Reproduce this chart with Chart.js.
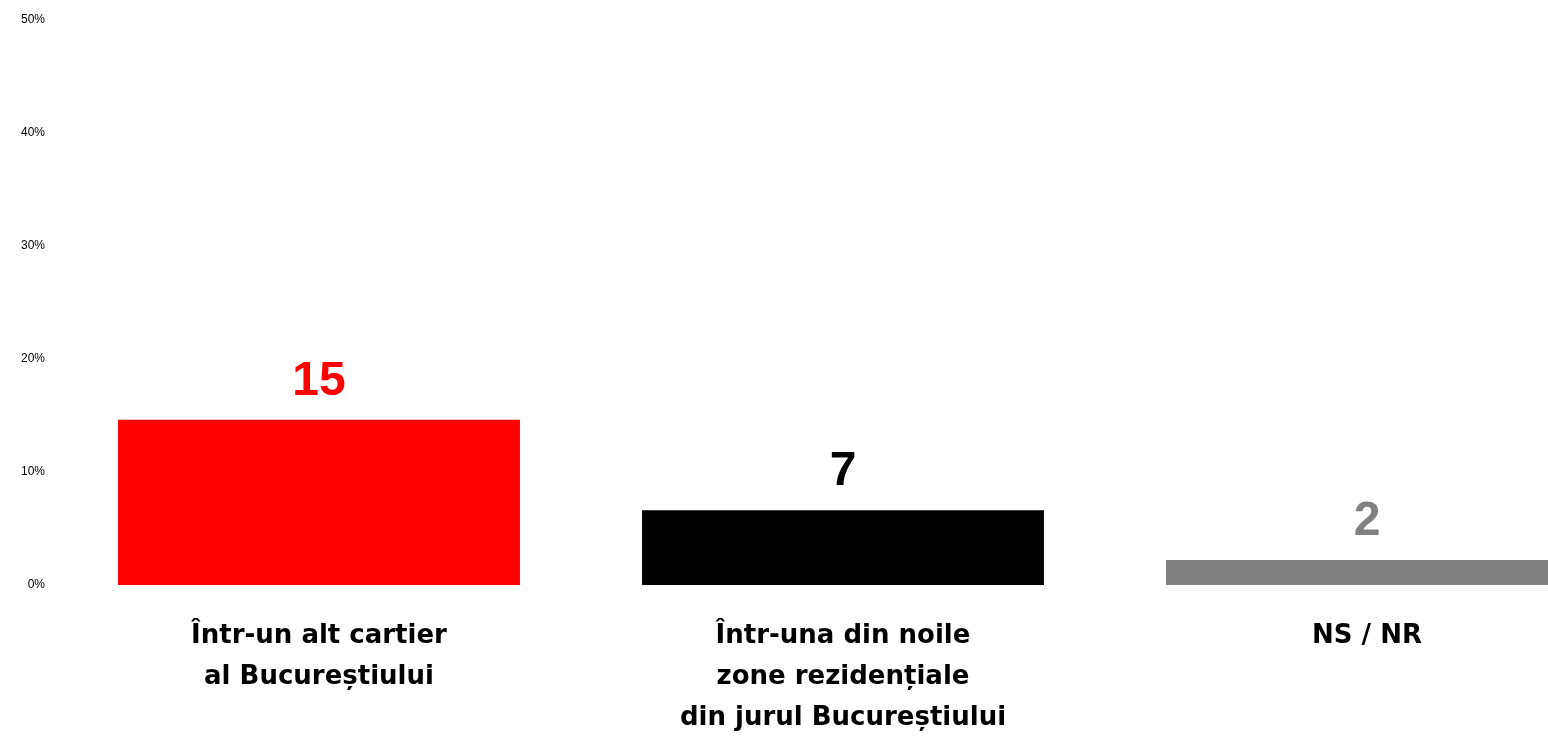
<!DOCTYPE html>
<html lang="ro">
<head>
    <meta charset="UTF-8">
    <title>Bar chart</title>
    <script src="https://cdn.jsdelivr.net/npm/chart.js"></script>
    <style>
        html, body { margin: 0; padding: 0; background: #fff; overflow: hidden; }
        #wrap { width: 1640px; height: 738px; }
    </style>
</head>
<body>
    <div id="wrap"><canvas id="chart" width="1640" height="738"></canvas></div>

    <script>
        const categories = [
            ['Într-un alt cartier', 'al Bucureștiului'],
            ['Într-una din noile', 'zone rezidențiale', 'din jurul Bucureștiului'],
            'NS / NR'
        ];
        const values = [14.6, 6.6, 2.2];
        const valueLabels = ['15', '7', '2'];
        const barColors = ['#ff0000', '#000000', '#808080'];
        const yTicks = [0, 10, 20, 30, 40, 50];

        // draws the number above each bar
        const valueLabelPlugin = {
            id: 'valueLabels',
            afterDatasetsDraw(chart) {
                const ctx = chart.ctx;
                const meta = chart.getDatasetMeta(0);
                ctx.save();
                ctx.font = 'bold 48px "Liberation Sans", Arial, sans-serif';
                ctx.textAlign = 'center';
                ctx.textBaseline = 'alphabetic';
                meta.data.forEach((bar, i) => {
                    ctx.fillStyle = barColors[i];
                    ctx.fillText(valueLabels[i], bar.x, bar.y - 25);
                });
                ctx.restore();
            }
        };

        const ctx = document.getElementById('chart').getContext('2d');
        new Chart(ctx, {
            type: 'bar',
            data: {
                labels: categories,
                datasets: [{
                    data: values,
                    backgroundColor: barColors,
                    borderWidth: 0,
                    categoryPercentage: 1,
                    barPercentage: 0.767
                }]
            },
            options: {
                responsive: false,
                animation: false,
                layout: { padding: { top: 17, right: 11, left: 0, bottom: 0 } },
                plugins: {
                    legend: { display: false },
                    tooltip: { enabled: false }
                },
                scales: {
                    x: {
                        grid: { display: false, drawTicks: false, tickLength: 0 },
                        border: { display: false },
                        ticks: {
                            color: '#000',
                            padding: 31,
                            maxRotation: 0,
                            autoSkip: false,
                            font: { family: '"DejaVu Sans", sans-serif', size: 26, weight: 'bold', lineHeight: 1.58 }
                        },
                        afterFit(scale) { scale.height = 153; }
                    },
                    y: {
                        min: 0,
                        max: 50,
                        afterBuildTicks(scale) { scale.ticks = yTicks.map(v => ({ value: v })); },
                        grid: { display: false, drawTicks: false, tickLength: 0 },
                        border: { display: false },
                        ticks: {
                            color: '#000',
                            padding: 12,
                            font: { family: '"Liberation Sans", Arial, sans-serif', size: 12 },
                            callback: v => v + '%'
                        },
                        afterFit(scale) { scale.width = 57; }
                    }
                }
            },
            plugins: [valueLabelPlugin]
        });
    </script>
</body>
</html>
